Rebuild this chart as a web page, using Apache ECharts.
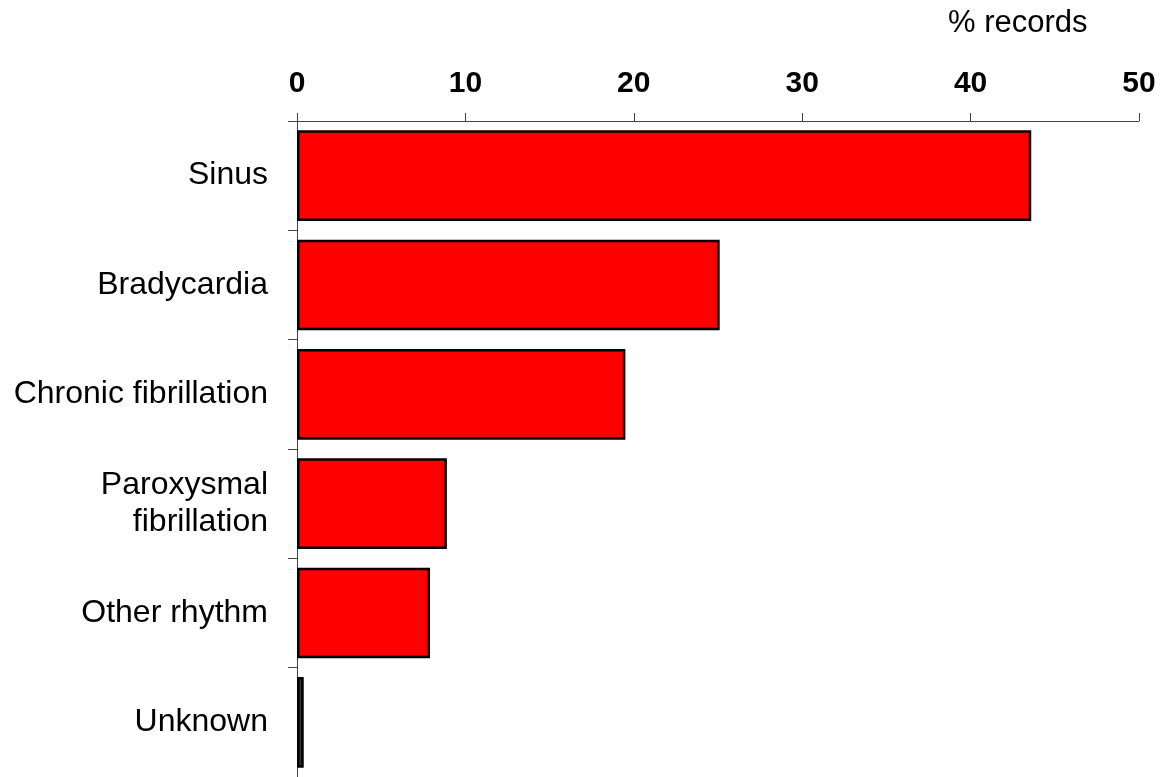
<!DOCTYPE html>
<html>
<head>
<meta charset="utf-8">
<script src="https://cdn.jsdelivr.net/npm/echarts@6/dist/echarts.min.js"></script>
<style>
html,body{margin:0;padding:0;background:#fff;}
#chart{width:1162px;height:777px;}
</style>
</head>
<body>
<div id="chart"></div>
<script>
const categories = ['Sinus', 'Bradycardia', 'Chronic fibrillation', 'Paroxysmal\nfibrillation', 'Other rhythm', 'Unknown'];
const values = [43.6, 25.1, 19.5, 8.9, 7.9, 0.4];
const barColors = ['#ff0000', '#ff0000', '#ff0000', '#ff0000', '#ff0000', '#333333'];
const xTicks = [0, 10, 20, 30, 40, 50];

const chart = echarts.init(document.getElementById('chart'), null, {renderer: 'canvas'});
const font = 'Liberation Sans, Arial, sans-serif';
chart.setOption({
  animation: false,
  backgroundColor: '#ffffff',
  title: {
    text: '% records',
    left: 943,
    top: 3,
    textStyle: {fontFamily: font, fontSize: 31, fontWeight: 'normal', color: '#000'}
  },
  grid: {left: 297, right: 23, top: 121, bottom: 0, containLabel: false},
  xAxis: {
    type: 'value',
    position: 'top',
    min: xTicks[0],
    max: xTicks[xTicks.length - 1],
    interval: 10,
    axisLine: {show: true, lineStyle: {color: '#444', width: 1}},
    axisTick: {show: true, length: 8, lineStyle: {color: '#444', width: 1}},
    splitLine: {show: false},
    axisLabel: {fontFamily: font, fontSize: 30, fontWeight: 'bold', color: '#000', margin: 22}
  },
  yAxis: {
    type: 'category',
    inverse: true,
    data: categories,
    axisLine: {show: true, lineStyle: {color: '#444', width: 1}},
    axisTick: {show: true, length: 9, alignWithLabel: false, lineStyle: {color: '#444', width: 1}},
    axisLabel: {fontFamily: font, fontSize: 32, color: '#000', margin: 29, lineHeight: 37, align: 'right'}
  },
  series: [{
    type: 'bar',
    data: values.map((v, i) => ({value: v, itemStyle: {color: barColors[i]}})),
    barCategoryGap: '17%',
    itemStyle: {borderColor: '#000', borderWidth: 2.5}
  }]
});
</script>
</body>
</html>
